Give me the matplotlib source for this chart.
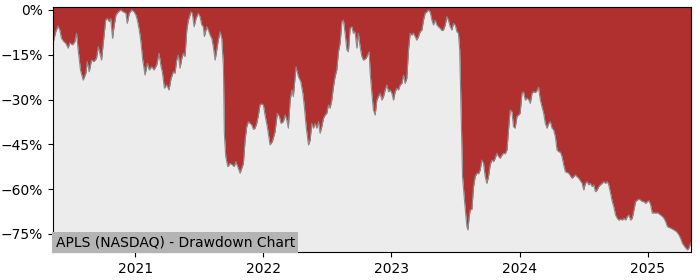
import numpy as np
import pandas as pd
import matplotlib
matplotlib.use("Agg")
import matplotlib.pyplot as plt
import matplotlib.dates as mdates
from matplotlib.ticker import FuncFormatter

# --- data (decimal year, drawdown in %) ---
years = [
    2020.359, 2020.380, 2020.398, 2020.412, 2020.425, 2020.443, 2020.459, 2020.477, 2020.490, 2020.511,
    2020.529, 2020.542, 2020.555, 2020.573, 2020.594, 2020.615, 2020.625, 2020.641, 2020.659, 2020.677,
    2020.698, 2020.711, 2020.724, 2020.737, 2020.750, 2020.769, 2020.781, 2020.797, 2020.808, 2020.823,
    2020.834, 2020.849, 2020.867, 2020.886, 2020.906, 2020.927, 2020.937, 2020.953, 2020.972, 2020.990,
    2021.005, 2021.016, 2021.031, 2021.042, 2021.058, 2021.076, 2021.094, 2021.109, 2021.128, 2021.146,
    2021.167, 2021.185, 2021.201, 2021.211, 2021.227, 2021.245, 2021.263, 2021.279, 2021.297, 2021.310,
    2021.323, 2021.336, 2021.349, 2021.363, 2021.375, 2021.388, 2021.402, 2021.414, 2021.435, 2021.445,
    2021.459, 2021.474, 2021.492, 2021.505, 2021.519, 2021.531, 2021.539, 2021.558, 2021.570, 2021.584,
    2021.597, 2021.609, 2021.623, 2021.636, 2021.648, 2021.662, 2021.675, 2021.688, 2021.695, 2021.706,
    2021.722, 2021.740, 2021.758, 2021.773, 2021.784, 2021.800, 2021.818, 2021.831, 2021.844, 2021.857,
    2021.870, 2021.883, 2021.896, 2021.909, 2021.922, 2021.935, 2021.948, 2021.961, 2021.974, 2021.988,
    2022.000, 2022.013, 2022.031, 2022.052, 2022.070, 2022.091, 2022.109, 2022.125, 2022.138, 2022.156,
    2022.170, 2022.183, 2022.195, 2022.209, 2022.222, 2022.234, 2022.248, 2022.255, 2022.273, 2022.292,
    2022.308, 2022.320, 2022.334, 2022.352, 2022.365, 2022.378, 2022.391, 2022.404, 2022.417, 2022.430,
    2022.443, 2022.456, 2022.469, 2022.482, 2022.495, 2022.508, 2022.521, 2022.534, 2022.547, 2022.560,
    2022.573, 2022.586, 2022.599, 2022.613, 2022.625, 2022.638, 2022.652, 2022.664, 2022.677, 2022.691,
    2022.703, 2022.716, 2022.730, 2022.742, 2022.755, 2022.769, 2022.781, 2022.802, 2022.820, 2022.826,
    2022.834, 2022.847, 2022.859, 2022.873, 2022.886, 2022.898, 2022.912, 2022.925, 2022.938, 2022.951,
    2022.964, 2022.977, 2022.990, 2023.003, 2023.016, 2023.029, 2023.042, 2023.055, 2023.068, 2023.081,
    2023.094, 2023.107, 2023.120, 2023.133, 2023.146, 2023.159, 2023.172, 2023.185, 2023.198, 2023.211,
    2023.224, 2023.238, 2023.250, 2023.263, 2023.277, 2023.289, 2023.302, 2023.316, 2023.328, 2023.341,
    2023.355, 2023.367, 2023.380, 2023.394, 2023.406, 2023.420, 2023.433, 2023.445, 2023.459, 2023.472,
    2023.484, 2023.498, 2023.511, 2023.523, 2023.533, 2023.545, 2023.555, 2023.570, 2023.589, 2023.597,
    2023.607, 2023.615, 2023.628, 2023.641, 2023.654, 2023.667, 2023.680, 2023.693, 2023.706, 2023.719,
    2023.732, 2023.745, 2023.758, 2023.771, 2023.784, 2023.797, 2023.810, 2023.823, 2023.836, 2023.849,
    2023.863, 2023.875, 2023.888, 2023.902, 2023.914, 2023.927, 2023.941, 2023.953, 2023.966, 2023.980,
    2023.992, 2024.005, 2024.019, 2024.031, 2024.045, 2024.058, 2024.070, 2024.084, 2024.097, 2024.109,
    2024.123, 2024.136, 2024.148, 2024.162, 2024.175, 2024.188, 2024.201, 2024.214, 2024.227, 2024.240,
    2024.253, 2024.266, 2024.279, 2024.292, 2024.305, 2024.318, 2024.331, 2024.344, 2024.357, 2024.383,
    2024.409, 2024.435, 2024.461, 2024.488, 2024.500, 2024.513, 2024.527, 2024.539, 2024.552, 2024.566,
    2024.578, 2024.591, 2024.605, 2024.617, 2024.630, 2024.644, 2024.656, 2024.670, 2024.683, 2024.695,
    2024.709, 2024.722, 2024.734, 2024.748, 2024.761, 2024.773, 2024.787, 2024.800, 2024.813, 2024.826,
    2024.839, 2024.852, 2024.865, 2024.878, 2024.891, 2024.904, 2024.917, 2024.930, 2024.943, 2024.956,
    2024.969, 2024.982, 2024.995, 2025.008, 2025.021, 2025.034, 2025.047, 2025.060, 2025.073, 2025.086,
    2025.099, 2025.113, 2025.125, 2025.138, 2025.152, 2025.177, 2025.203, 2025.224, 2025.242, 2025.255,
    2025.269, 2025.287, 2025.308, 2025.320, 2025.334,
]

drawdown = [
    -11.2, -7.3, -5.4, -6.7, -9.5, -10.6, -11.2, -12.8, -11.0, -11.7,
    -10.6, -7.8, -13.4, -20.1, -23.5, -21.2, -17.3, -20.7, -16.8, -17.3,
    -16.2, -12.3, -14.5, -16.8, -11.2, -3.4, -2.8, -3.9, -2.8, -9.5,
    -5.6, -1.7, -0.6, 0.0, -0.6, -1.1, -4.5, -1.1, 0.0, -0.6,
    -1.7, -3.4, -6.7, -10.1, -16.8, -21.8, -17.9, -20.1, -19.0, -20.1,
    -18.4, -14.5, -19.0, -20.7, -26.2, -25.1, -26.8, -22.9, -20.7, -21.2,
    -16.8, -15.1, -19.5, -16.2, -14.5, -15.6, -6.7, -3.4, -0.6, -1.1,
    -5.6, -2.8, -1.1, -2.2, -5.0, -5.6, -8.9, -5.6, -6.7, -8.4,
    -9.5, -12.3, -16.8, -13.4, -10.1, -7.3, -9.5, -19.0, -41.3, -49.1,
    -52.5, -51.4, -51.9, -52.5, -50.8, -52.5, -54.7, -53.0, -51.4, -43.6,
    -39.1, -37.4, -38.0, -38.5, -40.0, -39.6, -38.0, -35.2, -31.7, -31.5,
    -31.8, -35.2, -39.2, -45.2, -44.1, -40.8, -34.6, -35.7, -38.0, -37.4,
    -35.2, -36.9, -39.6, -30.2, -26.8, -29.0, -22.3, -19.0, -22.3, -24.0,
    -27.9, -32.4, -39.1, -45.2, -43.6, -38.0, -39.6, -38.0, -39.6, -37.4,
    -41.3, -39.1, -36.3, -35.2, -34.6, -31.8, -32.9, -30.2, -25.7, -22.3,
    -20.1, -14.0, -11.2, -3.9, -3.4, -7.8, -13.4, -14.0, -6.1, -5.6,
    -7.8, -7.3, -12.8, -7.8, -12.3, -15.6, -16.8, -16.2, -14.5, -14.0,
    -21.2, -27.9, -33.5, -35.2, -30.2, -29.0, -27.9, -30.2, -29.0, -26.8,
    -25.1, -27.4, -26.8, -27.9, -30.2, -27.4, -26.2, -26.8, -25.1, -24.6,
    -21.8, -24.6, -22.9, -13.4, -7.8, -8.4, -7.8, -8.9, -10.1, -8.9,
    -7.3, -6.7, -3.4, -1.1, -0.6, 0.0, -0.6, -3.4, -5.0, -3.4,
    -5.0, -5.6, -6.1, -6.9, -6.7, -5.0, -2.2, -3.4, -5.6, -6.7,
    -4.5, -5.0, -7.3, -7.8, -13.4, -35.7, -55.8, -63.7, -72.6, -73.7,
    -69.2, -67.0, -66.8, -59.2, -55.8, -54.7, -54.9, -53.6, -50.3, -51.4,
    -55.8, -58.1, -55.8, -51.9, -50.3, -50.8, -49.7, -48.0, -49.1, -49.7,
    -48.6, -48.0, -48.2, -46.9, -40.2, -33.5, -34.1, -39.1, -39.6, -35.7,
    -35.2, -34.6, -27.9, -27.4, -30.2, -29.6, -29.9, -31.3, -27.9, -27.4,
    -27.7, -27.0, -25.9, -30.2, -32.4, -34.6, -38.0, -39.6, -38.0, -37.4,
    -39.6, -40.2, -42.4, -46.9, -47.5, -47.6, -49.1, -51.9, -54.2, -54.7,
    -56.4, -55.3, -56.4, -58.1, -60.3, -58.1, -57.5, -58.6, -58.1, -59.2,
    -58.6, -60.9, -60.3, -59.2, -58.6, -58.1, -57.5, -58.1, -57.5, -58.6,
    -61.4, -64.2, -65.9, -68.7, -69.8, -70.4, -70.1, -70.4, -69.8, -70.4,
    -69.2, -68.7, -70.4, -69.8, -67.0, -64.2, -63.7, -63.4, -63.7, -64.2,
    -64.2, -64.8, -64.2, -63.9, -65.3, -68.1, -67.9, -68.1, -67.9, -68.3,
    -68.7, -69.2, -69.8, -70.9, -72.6, -73.1, -73.7, -74.3, -75.4, -76.5,
    -78.2, -79.3, -80.4, -79.8, -78.1,
]

y_ticks = [0, -15, -30, -45, -60, -75]
title_text = "APLS (NASDAQ) - Drawdown Chart"

RED = "#b03030"
BG = "#ececec"


def year_to_date(y):
    yr = int(np.floor(y))
    start = pd.Timestamp(year=yr, month=1, day=1)
    end = pd.Timestamp(year=yr + 1, month=1, day=1)
    return start + (end - start) * (y - yr)


dates = [year_to_date(y) for y in years]
dd = np.array(drawdown)

y_top, y_bottom = 1.0, -81.2

fig = plt.figure(figsize=(7, 2.8), dpi=100)
ax = fig.add_axes([0.0757, 0.099, 0.9110, 0.876])
ax.set_facecolor(BG)

ax.fill_between(dates, dd, y_top, color=RED, linewidth=0)
ax.plot(dates, dd, color="#8a8a8a", linewidth=0.8)

ax.set_xlim(dates[0], dates[-1])
ax.set_ylim(y_bottom, y_top)
ax.set_yticks(y_ticks)
ax.yaxis.set_major_formatter(FuncFormatter(lambda v, _: f"{v:.0f}%".replace("-", "\u2212")))
ax.xaxis.set_major_locator(mdates.YearLocator())
ax.xaxis.set_major_formatter(mdates.DateFormatter("%Y"))
ax.tick_params(labelsize=10)

ax.text(0.004, 0.012, title_text, transform=ax.transAxes, fontsize=10,
        ha="left", va="bottom",
        bbox=dict(facecolor="#b4b4b4", edgecolor="none", pad=2.5))

fig.savefig("out.png", dpi=100)
